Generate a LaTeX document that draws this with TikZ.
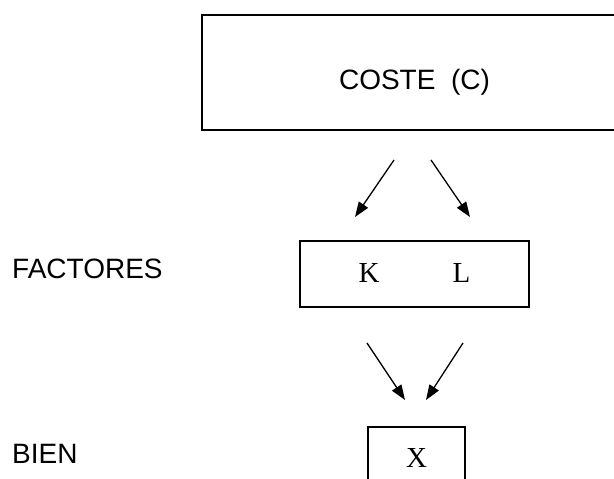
\documentclass[tikz,border=0pt]{standalone}
\usepackage{fontspec}
\setmainfont{Liberation Sans}
\newfontfamily\serifx{Liberation Serif}
\usetikzlibrary{arrows.meta}
\tikzset{
  boxline/.style={draw=black, line width=1.6pt, fill=none, inner sep=0pt},
  sanslabel/.style={font=\fontsize{28}{32}\selectfont, inner sep=0pt},
  seriflabel/.style={font=\serifx\fontsize{29}{33}\selectfont, inner sep=0pt},
  flowarrow/.style={draw=black, line width=1.3pt, -{Triangle[length=15pt,width=11pt]}}
}
\begin{document}
\begin{tikzpicture}[x=1pt,y=-1pt]
\useasboundingbox (0,0) rectangle (614,479);
\clip (0,0) rectangle (614,479);
% top box (cut at right edge)
\node[boxline, rectangle, minimum width=425pt, minimum height=115pt] (costebox) at (414.5,72.5) {};
\node[sanslabel, anchor=base] (costetxt) at (414.5,89) {COSTE\ \ (C)};
% arrows from cost to factors
\coordinate (a1s) at (394,160);
\coordinate (a1e) at (355,217);
\coordinate (a2s) at (431,160);
\coordinate (a2e) at (470,217);
\draw[flowarrow] (a1s) -- (a1e);
\draw[flowarrow] (a2s) -- (a2e);
% factors box
\node[boxline, rectangle, minimum width=229pt, minimum height=66pt] (klbox) at (414.5,274) {};
\node[seriflabel, anchor=base] (k) at (369,282) {K};
\node[seriflabel, anchor=base] (l) at (461.5,282) {L};
% arrows to good
\coordinate (b1s) at (367,343);
\coordinate (b1e) at (405,400);
\coordinate (b2s) at (463,343);
\coordinate (b2e) at (426,400);
\draw[flowarrow] (b1s) -- (b1e);
\draw[flowarrow] (b2s) -- (b2e);
% good box (cut at bottom edge)
\node[boxline, rectangle, minimum width=97pt, minimum height=80pt] (xbox) at (416.5,467) {};
\node[seriflabel, anchor=base] (x) at (416.5,467) {X};
% side labels
\node[sanslabel, anchor=base west] (factores) at (12,278) {FACTORES};
\node[sanslabel, anchor=base west] (bien) at (12,463) {BIEN};
\end{tikzpicture}
\end{document}
